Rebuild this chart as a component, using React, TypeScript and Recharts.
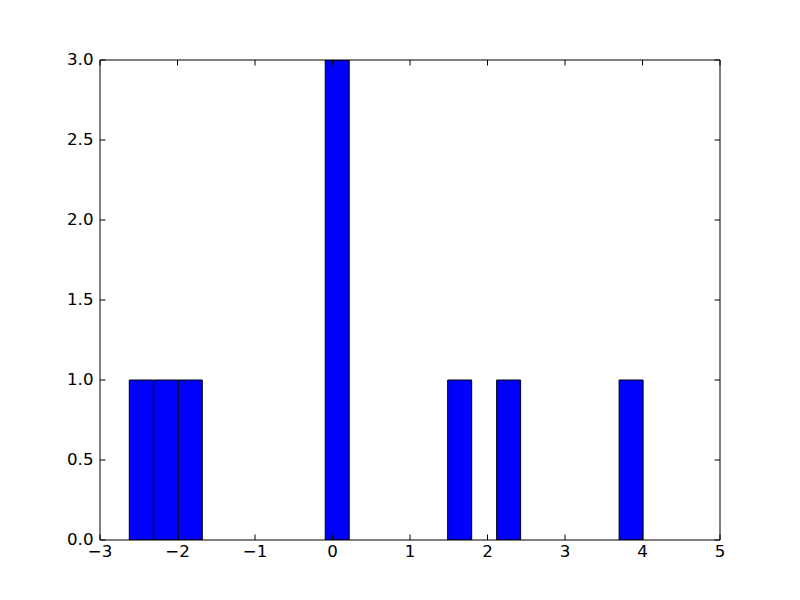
import React from 'react';
import { ComposedChart, Bar, XAxis, YAxis } from 'recharts';

// Histogram bins (centers) and counts
const binCenters = [
  -2.464, -2.148, -1.832, -1.516, -1.2, -0.884, -0.568, -0.252, 0.064, 0.38, 0.696,
  1.012, 1.328, 1.644, 1.96, 2.276, 2.592, 2.908, 3.224, 3.54, 3.856,
];
const binCounts = [1, 1, 1, 0, 0, 0, 0, 0, 3, 0, 0, 0, 0, 1, 0, 1, 0, 0, 0, 0, 1];
const xTicks = [-3, -2, -1, 0, 1, 2, 3, 4, 5];
const yTicks = [0, 0.5, 1, 1.5, 2, 2.5, 3];

const data = binCenters.map((c, i) => ({ x: c, count: binCounts[i] }));

const FONT = "'DejaVu Sans', sans-serif";
const FS = 16.67;
const TL = 5.5;
const MX = 5;
const MY = 6.5;

const fmtX = (v: number) => (v < 0 ? '\u2212' + Math.abs(v) : String(v));
const fmtY = (v: number) => v.toFixed(1);

const BottomTick = (p: any) => {
  const { x, y, payload } = p;
  const base = y - MX;
  return (
    <g>
      <line x1={x} x2={x} y1={base} y2={base - TL} stroke="#000" strokeWidth={1} />
      <text x={x} y={y} dy="0.71em" textAnchor="middle" fontFamily={FONT} fontSize={FS} fill="#000">
        {fmtX(payload.value)}
      </text>
    </g>
  );
};

const LeftTick = (p: any) => {
  const { x, y, payload } = p;
  const base = x + MY;
  return (
    <g>
      <line x1={base} x2={base + TL} y1={y} y2={y} stroke="#000" strokeWidth={1} />
      <text x={x} y={y} dy="0.27em" textAnchor="end" fontFamily={FONT} fontSize={FS} fill="#000">
        {fmtY(payload.value)}
      </text>
    </g>
  );
};

const TopTick = (p: any) => {
  const { x, y } = p;
  return <line x1={x} x2={x} y1={y} y2={y + TL} stroke="#000" strokeWidth={1} />;
};

const RightTick = (p: any) => {
  const { x, y } = p;
  return <line x1={x} x2={x - TL} y1={y} y2={y} stroke="#000" strokeWidth={1} />;
};

export default function App() {
  return (
    <div style={{ position: 'absolute', left: 0, top: 0, width: 800, height: 600, background: '#fff' }}>
      <ComposedChart
        width={800}
        height={600}
        data={data}
        margin={{ top: 50, right: 70, bottom: 20, left: 40 }}
        barCategoryGap={0}
        barGap={0}
      >
        <XAxis
          xAxisId="b"
          dataKey="x"
          type="number"
          domain={[-3, 5]}
          allowDataOverflow
          ticks={xTicks}
          interval={0}
          height={40}
          tickSize={0}
          tickMargin={MX}
          tickLine={false}
          axisLine={{ stroke: '#000', strokeWidth: 1 }}
          tick={<BottomTick />}
        />
        <XAxis
          xAxisId="t"
          dataKey="x"
          orientation="top"
          type="number"
          domain={[-3, 5]}
          allowDataOverflow
          ticks={xTicks}
          interval={0}
          height={10}
          tickSize={0}
          tickMargin={0}
          tickLine={false}
          axisLine={{ stroke: '#000', strokeWidth: 1 }}
          tick={<TopTick />}
        />
        <YAxis
          yAxisId="l"
          type="number"
          domain={[0, 3]}
          allowDataOverflow
          ticks={yTicks}
          interval={0}
          width={60}
          tickSize={0}
          tickMargin={MY}
          tickLine={false}
          axisLine={{ stroke: '#000', strokeWidth: 1 }}
          tick={<LeftTick />}
        />
        <YAxis
          yAxisId="r"
          orientation="right"
          type="number"
          domain={[0, 3]}
          allowDataOverflow
          ticks={yTicks}
          interval={0}
          width={10}
          tickSize={0}
          tickMargin={0}
          tickLine={false}
          axisLine={{ stroke: '#000', strokeWidth: 1 }}
          tick={<RightTick />}
        />
        <Bar
          xAxisId="b"
          yAxisId="l"
          dataKey="count"
          fill="#0000ff"
          stroke="#000"
          strokeWidth={1}
          isAnimationActive={false}
        />
      </ComposedChart>
    </div>
  );
}
